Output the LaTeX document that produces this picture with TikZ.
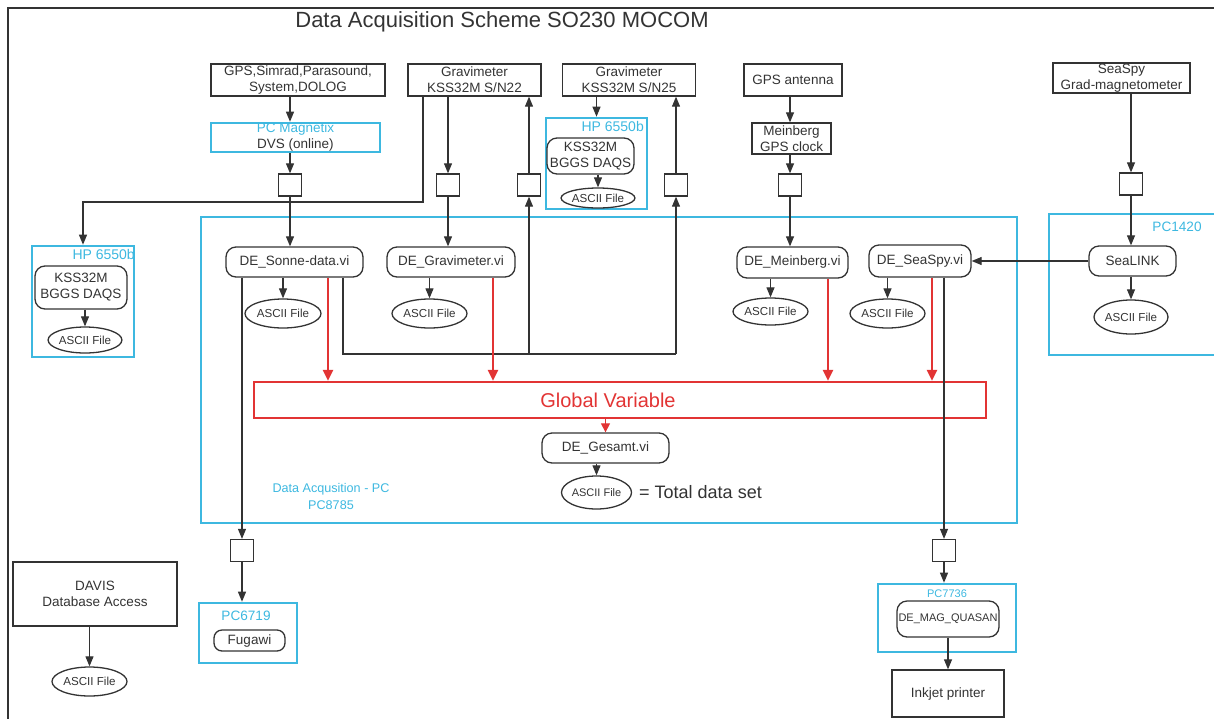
\documentclass[tikz,border=0pt]{standalone}
\usepackage{fontspec}
\setmainfont{Liberation Sans}
\usetikzlibrary{arrows.meta,shapes.geometric,calc}
\definecolor{dk}{HTML}{333333}
\definecolor{cy}{HTML}{3DB8E0}
\definecolor{rd}{HTML}{E23434}
\tikzset{
  blk/.style={draw=dk,line width=1.3pt,inner sep=0pt,align=center,text=dk,font=\fontsize{13.5}{16}\selectfont},
  rbox/.style={blk,rounded corners=10pt},
  ell/.style={ellipse,draw=dk,line width=1.3pt,inner sep=0pt,text=dk,font=\fontsize{11.6}{13}\selectfont},
  cbox/.style={draw=cy,line width=2.6pt,inner sep=0pt},
  sqr/.style={draw=dk,line width=1.3pt,inner sep=0pt,minimum width=23pt,minimum height=22pt},
  arr/.style={draw=dk,line width=1.1pt,-{Triangle[length=10pt,width=8pt]}},
  ln/.style={draw=dk,line width=1.1pt},
  rarr/.style={draw=rd,line width=2.3pt,-{Triangle[length=11pt,width=10pt]}},
  ctext/.style={text=cy,inner sep=0pt,align=center},
}
\begin{document}
\begin{tikzpicture}[x=1pt,y=-1pt]
\useasboundingbox (0,0) rectangle (1214,718);
% frame
\draw[dk,line width=1.3pt] (8,720) -- (8,8) -- (1216,8);
\node[text=dk,inner sep=0pt,anchor=base,font=\fontsize{22}{24}\selectfont] (title) at (502,27) {Data Acquisition Scheme SO230 MOCOM};

% top sources
\node[blk,minimum width=174pt,minimum height=32pt] (gps) at (298,80) {GPS,Simrad,Parasound,\\System,DOLOG};
\node[blk,minimum width=133pt,minimum height=32pt] (grav22) at (474.5,80) {Gravimeter\\KSS32M S/N22};
\node[blk,minimum width=133pt,minimum height=32pt] (grav25) at (629,80) {Gravimeter\\KSS32M S/N25};
\node[blk,minimum width=98pt,minimum height=32pt] (gpsant) at (793,80) {GPS antenna};
\node[blk,minimum width=137pt,minimum height=30pt] (seaspy) at (1121.5,78) {SeaSpy\\Grad-magnetometer};

\node[cbox,minimum width=169pt,minimum height=29pt,align=center,font=\fontsize{13.5}{16}\selectfont] (mag) at (295.5,137.5) {\textcolor{cy}{PC Magnetix}\\\textcolor{dk}{DVS (online)}};
\node[blk,minimum width=79pt,minimum height=31pt] (meinberg) at (791.5,138.5) {Meinberg\\GPS clock};

% small squares
\node[sqr] (sqA) at (290,185) {};
\node[sqr] (sqB) at (448,185) {};
\node[sqr] (sqC) at (529,185) {};
\node[sqr] (sqD) at (676,185) {};
\node[sqr] (sqE) at (790,185) {};
\node[sqr] (sqF) at (1131,184) {};
\node[sqr] (sqG) at (242,550.5) {};
\node[sqr] (sqH) at (944,550.5) {};

% HP middle
\node[cbox,minimum width=101pt,minimum height=91pt] (hpm) at (596.5,163.5) {};
\node[ctext,anchor=north east,font=\fontsize{14}{15}\selectfont] (hpmlab) at (644,121) {HP 6550b};
\node[rbox,minimum width=87pt,minimum height=36pt] (kssm) at (590.5,156) {KSS32M\\BGGS DAQS};
\node[ell,minimum width=60pt,minimum height=20pt] (asm) at (598,198) {ASCII File};

% HP left
\node[cbox,minimum width=102pt,minimum height=111pt] (hpl) at (83,301.5) {};
\node[ctext,anchor=north east,font=\fontsize{14}{15}\selectfont] (hpllab) at (135,249) {HP 6550b};
\node[rbox,minimum width=92pt,minimum height=43pt] (kssl) at (81,287.5) {KSS32M\\BGGS DAQS};
\node[ell,minimum width=60pt,minimum height=26pt] (asl) at (85,340) {ASCII File};

% main PC box
\node[cbox,minimum width=816pt,minimum height=306pt] (daq) at (609,370) {};
\node[ctext,font=\fontsize{12.6}{17}\selectfont] (daqlab) at (331,496) {Data Acqusition - PC\\PC8785};

\node[rbox,minimum width=137pt,minimum height=30pt] (sonne) at (294.5,262) {DE\_Sonne-data.vi};
\node[rbox,minimum width=128pt,minimum height=30pt] (gravi) at (451,262) {DE\_Gravimeter.vi};
\node[rbox,minimum width=111pt,minimum height=31pt] (meinvi) at (792.5,262.5) {DE\_Meinberg.vi};
\node[rbox,minimum width=102pt,minimum height=32pt] (seavi) at (920,261) {DE\_SeaSpy.vi};

\node[ell,minimum width=76pt,minimum height=29pt] (a1) at (283,313.5) {ASCII File};
\node[ell,minimum width=75pt,minimum height=29pt] (a2) at (429.5,313.5) {ASCII File};
\node[ell,minimum width=75pt,minimum height=27pt] (a3) at (770.5,311.5) {ASCII File};
\node[ell,minimum width=75pt,minimum height=29pt] (a4) at (887.5,313.5) {ASCII File};

\node[draw=rd,line width=2.3pt,minimum width=732pt,minimum height=36pt,inner sep=0pt] (gv) at (620,400) {};
\node[text=rd,inner sep=0pt,font=\fontsize{20}{22}\selectfont] (gvlab) at (608,400) {Global Variable};

\node[rbox,minimum width=127pt,minimum height=30pt] (gesamt) at (605.5,448) {DE\_Gesamt.vi};
\node[ell,minimum width=67pt,minimum height=33pt,font=\fontsize{11}{12}\selectfont] (a5) at (596.5,492.5) {ASCII File};
\node[text=dk,inner sep=0pt,anchor=west,font=\fontsize{18}{20}\selectfont] (total) at (639,492) {= Total data set};

% PC1420
\draw[cy,line width=2.6pt] (1220,214) -- (1049,214) -- (1049,355) -- (1220,355);
\node[ctext,font=\fontsize{13.6}{15}\selectfont] (pc1420lab) at (1177,227) {PC1420};
\node[rbox,minimum width=87pt,minimum height=30pt] (sealink) at (1132.5,261) {SeaLINK};
\node[ell,minimum width=74pt,minimum height=34pt] (a6) at (1131,317) {ASCII File};

% bottom left
\node[blk,minimum width=164pt,minimum height=64pt] (davis) at (95,594) {DAVIS\\Database Access};
\node[ell,minimum width=75pt,minimum height=29pt] (a7) at (89.5,681.5) {ASCII File};
\node[cbox,minimum width=98pt,minimum height=60pt] (pc6719) at (248,633) {};
\node[ctext,font=\fontsize{13.6}{15}\selectfont] (pc6719lab) at (246,616) {PC6719};
\node[rbox,minimum width=71pt,minimum height=21pt,rounded corners=8pt] (fugawi) at (249.5,640.5) {Fugawi};

% bottom right
\node[cbox,minimum width=138pt,minimum height=68pt] (pc7736) at (947,618) {};
\node[ctext,font=\fontsize{11}{12}\selectfont] (pc7736lab) at (947,594) {PC7736};
\node[rbox,minimum width=102pt,minimum height=36pt,font=\fontsize{11}{12}\selectfont] (magq) at (948,619) {DE\_MAG\_QUASAN};
\node[blk,minimum width=112pt,minimum height=47pt] (inkjet) at (948,693.5) {Inkjet printer};

% helper coordinates
\coordinate (g22l) at (423,202);
\coordinate (j1) at (343,354);
\coordinate (r1) at (328,0);
\coordinate (r2) at (493,0);
\coordinate (r3) at (828,0);
\coordinate (r4) at (932,0);

% connectors
\draw[arr] (gps.south -| sqA) -- (mag.north -| sqA);
\draw[arr] (mag.south -| sqA) -- (sqA.north);
\draw[arr] (sqA.south) -- (sonne.north -| sqA);

\draw[arr] (grav22.south -| g22l) -- (g22l) -| (hpl.north);
\draw[arr] (grav22.south -| sqB) -- (sqB.north);
\draw[arr] (sqB.south) -- (gravi.north -| sqB);

\draw[ln] (sonne.south -| j1) -- (j1) -- (j1 -| sqD);
\draw[arr] (j1 -| sqC) -- (sqC.south);
\draw[arr] (sqC.north) -- (grav22.south -| sqC);
\draw[arr] (j1 -| sqD) -- (sqD.south);
\draw[arr] (sqD.north) -- (grav25.south -| sqD);

\draw[arr] (grav25.south -| hpm) -- (hpm.north);
\draw[arr] (kssm.south -| asm) -- (asm.north);
\draw[arr] (kssl.south -| asl) -- (asl.north);

\draw[arr] (gpsant.south -| sqE) -- (meinberg.north -| sqE);
\draw[arr] (meinberg.south -| sqE) -- (sqE.north);
\draw[arr] (sqE.south) -- (meinvi.north -| sqE);

\draw[arr] (seaspy.south -| sqF) -- (sqF.north);
\draw[arr] (sqF.south) -- (sealink.north -| sqF);
\draw[arr] (sealink.south -| a6) -- (a6.north);
\draw[arr] (sealink.west) -- (seavi.east);

\draw[arr] (sonne.south -| a1) -- (a1.north);
\draw[arr] (gravi.south -| a2) -- (a2.north);
\draw[arr] (meinvi.south -| a3) -- (a3.north);
\draw[arr] (seavi.south -| a4) -- (a4.north);

\draw[rarr] (sonne.south -| r1) -- (gv.north -| r1);
\draw[rarr] (gravi.south -| r2) -- (gv.north -| r2);
\draw[rarr] (meinvi.south -| r3) -- (gv.north -| r3);
\draw[rarr] (seavi.south -| r4) -- (gv.north -| r4);
\draw[draw=rd,line width=1.2pt,-{Triangle[length=9pt,width=9pt]}] (gv.south -| gesamt) -- (gesamt.north);
\draw[arr] (gesamt.south -| a5) -- (a5.north);

\draw[arr] (sonne.south -| sqG) -- (sqG.north);
\draw[arr] (sqG.south) -- (pc6719.north -| sqG);
\draw[arr] (seavi.south -| sqH) -- (sqH.north);
\draw[arr] (sqH.south) -- (pc7736.north -| sqH);
\draw[arr] (magq.south) -- (inkjet.north);
\draw[arr] (davis.south -| a7) -- (a7.north);
\end{tikzpicture}
\end{document}
